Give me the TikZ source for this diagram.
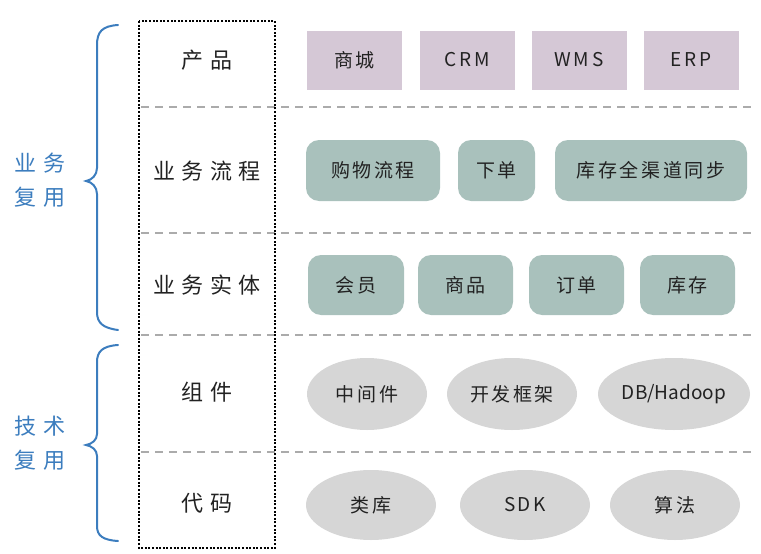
\documentclass[tikz,border=0pt]{standalone}
\usepackage{fontspec}
\setmainfont{Noto Sans CJK SC}
\newfontfamily\boxfont[LetterSpace=14]{Noto Sans CJK SC}
\newfontfamily\handfont[LetterSpace=30]{Noto Sans CJK SC}
\usetikzlibrary{shapes.geometric}
\definecolor{lilac}{HTML}{D5C8D6}
\definecolor{sage}{HTML}{A9C1BC}
\definecolor{pebble}{HTML}{D6D6D6}
\definecolor{inkgray}{HTML}{222222}
\definecolor{penblue}{HTML}{3C7DBE}
\definecolor{linegray}{HTML}{ABABAB}

\begin{document}
\begin{tikzpicture}[x=1pt,y=-1pt,
  prod/.style={fill=lilac, minimum width=95pt, minimum height=59pt, inner sep=0pt,
    text=inkgray, font=\boxfont\fontsize{19}{22}\selectfont},
  flow/.style={fill=sage, rounded corners=13pt, minimum height=61pt, inner sep=0pt,
    text=inkgray, font=\boxfont\fontsize{19}{22}\selectfont},
  tech/.style={ellipse, fill=pebble, inner sep=0pt,
    text=inkgray, font=\boxfont\fontsize{19}{22}\selectfont},
  layer/.style={text=inkgray, font=\handfont\fontsize{22}{24}\selectfont},
  reuse/.style={text=penblue, align=center, font=\handfont\fontsize{22}{34}\selectfont},
  sep/.style={linegray, line width=1.3pt, dash pattern=on 8pt off 6pt},
  curly/.style={penblue, line width=2pt, line cap=round}]
\useasboundingbox (0,0) rectangle (761,554);

% separators between the layers
\draw[sep] (141,107) -- (755,107);
\draw[sep] (141,233) -- (755,233);
\draw[sep] (141,335) -- (755,335);
\draw[sep] (141,452) -- (755,452);

% layer column
\draw[line width=2pt, dash pattern=on 2pt off 1.6pt] (139,21) rectangle (275,548);
\node[layer] (product) at (207,60) {产品};
\node[layer] (process) at (207,171) {业务流程};
\node[layer] (entity) at (207,285) {业务实体};
\node[layer] (component) at (207,392) {组件};
\node[layer] (code) at (207,503) {代码};

% products
\node[prod] (mall) at (354.5,60) {商城};
\node[prod] (crm) at (467,60) {CRM};
\node[prod] (wms) at (579,60) {WMS};
\node[prod] (erp) at (691,60) {ERP};

% business processes
\node[flow, minimum width=134pt] (shopping) at (373,170.5) {购物流程};
\node[flow, minimum width=77pt] (order) at (496.5,170.5) {下单};
\node[flow, minimum width=192pt] (stocksync) at (651,170.5) {库存全渠道同步};

% business entities
\node[flow, minimum width=96pt, minimum height=60pt] (member) at (356,285) {会员};
\node[flow, minimum width=95pt, minimum height=60pt] (goods) at (465.5,285) {商品};
\node[flow, minimum width=95pt, minimum height=60pt] (bill) at (576.5,285) {订单};
\node[flow, minimum width=95pt, minimum height=60pt] (stock) at (687.5,285) {库存};

% components
\node[tech, minimum width=120pt, minimum height=72pt] (middleware) at (367,394) {中间件};
\node[tech, minimum width=130pt, minimum height=72pt] (framework) at (512,394) {开发框架};
\node[tech, minimum width=152pt, minimum height=72pt, font=\fontsize{19}{22}\selectfont] (hadoop) at (674,394) {DB/Hadoop};

% code
\node[tech, minimum width=130pt, minimum height=70pt] (lib) at (371,505) {类库};
\node[tech, minimum width=130pt, minimum height=70pt] (sdk) at (525,505) {SDK};
\node[tech, minimum width=130pt, minimum height=70pt] (algo) at (675,505) {算法};

% braces
\draw[curly] (118,25) .. controls (102,26) and (97,32) .. (97,45)
  -- (97,168) .. controls (97,175) and (92,180) .. (86,181)
  .. controls (92,182) and (97,187) .. (97,194)
  -- (97,312) .. controls (97,323) and (103,328) .. (118,330);
\draw[curly] (118,345) .. controls (102,346) and (97,352) .. (97,362)
  -- (97,434) .. controls (97,440) and (92,444) .. (86,445)
  .. controls (92,446) and (97,450) .. (97,456)
  -- (97,526) .. controls (97,536) and (103,540) .. (118,541);
\node[reuse] (bizreuse) at (40,180) {业务\\复用};
\node[reuse] (techreuse) at (40,443) {技术\\复用};
\end{tikzpicture}
\end{document}
